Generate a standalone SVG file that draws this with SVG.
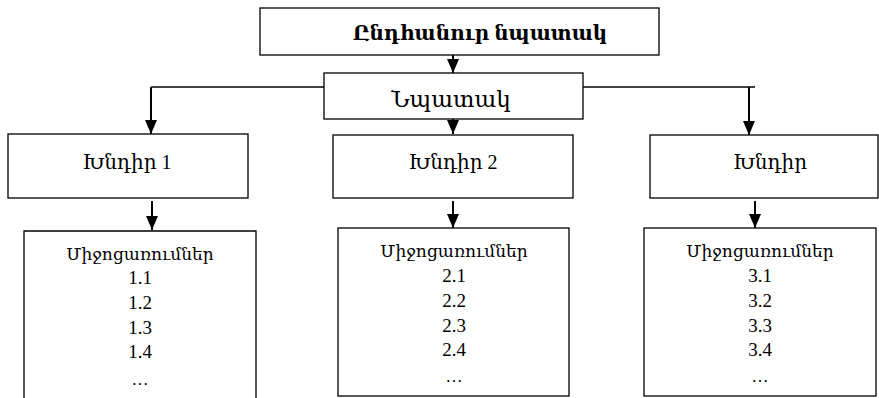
<svg xmlns="http://www.w3.org/2000/svg" width="879" height="398" viewBox="0 0 879 398">
  <style>
    .box { fill: #ffffff; stroke: #000000; stroke-width: 1.3; }
    .wire { fill: none; stroke: #000000; stroke-width: 1.3; }
    .drop { fill: none; stroke: #000000; stroke-width: 2; marker-end: url(#head); }
    text { font-family: "Liberation Serif", "DejaVu Serif", serif; fill: #000000; text-anchor: middle; }
    .title { font-size: 20px; font-weight: bold; }
    .goal { font-size: 23px; }
    .label { font-size: 20px; }
    .list { font-size: 17px; }
    .num { font-size: 19px; }
  </style>
  <defs>
    <marker id="head" markerUnits="userSpaceOnUse" markerWidth="14" markerHeight="12" refX="14" refY="6" orient="auto">
      <path d="M0,0 L14,6 L0,12 z" fill="#000000"/>
    </marker>
  </defs>

  <!-- connectors -->
  <g id="connectors">
    <path class="wire" d="M151,87 H324"/>
    <path class="wire" d="M583,87 H755"/>
    <path class="drop" d="M151,87 V134"/>
    <path class="drop" d="M749,87 V135"/>
    <path class="drop" d="M453,55 V73"/>
    <path class="drop" d="M453,119 V134"/>
    <path class="drop" d="M152,201 V230"/>
    <path class="drop" d="M453,201 V228"/>
    <path class="drop" d="M755,201 V228"/>
  </g>

  <!-- top level goal -->
  <g id="general-goal">
    <rect class="box" x="260" y="8" width="399" height="47"/>
    <text class="title" x="480" y="40">Ընդհանուր  նպատակ</text>
  </g>

  <g id="goal">
    <rect class="box" x="324" y="73" width="259" height="46"/>
    <text class="goal" x="451" y="107">Նպատակ</text>
  </g>

  <!-- tasks -->
  <g id="task-1">
    <rect class="box" x="8" y="134" width="240" height="64"/>
    <text class="label" x="127" y="169">Խնդիր 1</text>
  </g>
  <g id="task-2">
    <rect class="box" x="333" y="135" width="240" height="63"/>
    <text class="label" x="453" y="169">Խնդիր 2</text>
  </g>
  <g id="task-3">
    <rect class="box" x="650" y="135" width="228" height="63"/>
    <text class="label" x="770" y="169">Խնդիր</text>
  </g>

  <!-- measures -->
  <g id="measures-1">
    <path class="box" d="M24,398 V231 H256 V398"/>
    <text class="list" x="140" y="260">Միջոցառումներ</text>
    <text class="num" x="140" y="284">1.1</text>
    <text class="num" x="140" y="309">1.2</text>
    <text class="num" x="140" y="334">1.3</text>
    <text class="num" x="140" y="358">1.4</text>
    <text class="list" x="140" y="385">…</text>
  </g>
  <g id="measures-2">
    <rect class="box" x="338" y="228" width="231" height="168"/>
    <text class="list" x="454" y="257">Միջոցառումներ</text>
    <text class="num" x="454" y="282">2.1</text>
    <text class="num" x="454" y="307">2.2</text>
    <text class="num" x="454" y="332">2.3</text>
    <text class="num" x="454" y="356">2.4</text>
    <text class="list" x="454" y="382">…</text>
  </g>
  <g id="measures-3">
    <rect class="box" x="644" y="228" width="232" height="168"/>
    <text class="list" x="760" y="257">Միջոցառումներ</text>
    <text class="num" x="760" y="282">3.1</text>
    <text class="num" x="760" y="307">3.2</text>
    <text class="num" x="760" y="332">3.3</text>
    <text class="num" x="760" y="356">3.4</text>
    <text class="list" x="760" y="382">…</text>
  </g>
</svg>
